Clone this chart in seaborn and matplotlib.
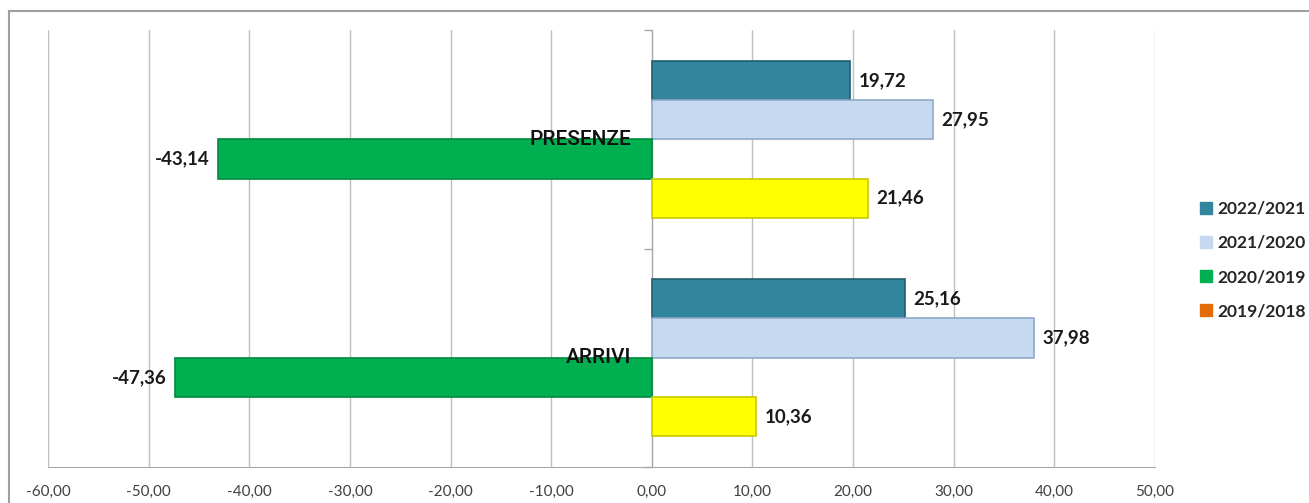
import pandas as pd
import seaborn as sns
import matplotlib.pyplot as plt
from matplotlib.lines import Line2D
from matplotlib.patches import Rectangle
from matplotlib.ticker import FuncFormatter, FixedLocator

# data
categories = ['PRESENZE', 'ARRIVI']
periods = ['2022/2021', '2021/2020', '2020/2019', '2019/2018']
presenze = [19.72, 27.95, -43.14, 21.46]
arrivi = [25.16, 37.98, -47.36, 10.36]

bar_colors = ['#31859C', '#C6D9F1', '#00B050', '#FFFF00']
legend_colors = ['#31859C', '#C6D9F1', '#00B050', '#E36C09']
edge_colors = ['#215E6E', '#8EA9C8', '#008A3E', '#C8C800']

df = pd.DataFrame({
    'categoria': ['PRESENZE'] * 4 + ['ARRIVI'] * 4,
    'periodo': periods * 2,
    'valore': presenze + arrivi,
})

sns.set_style('white')
plt.rcParams['font.family'] = ['Lato', 'DejaVu Sans']

fig = plt.figure(figsize=(13.09, 5.03), dpi=100)
ax = fig.add_axes([48 / 1309, 1 - 467 / 503, (1155 - 48) / 1309, (467 - 30) / 503])

sns.barplot(data=df, x='valore', y='categoria', hue='periodo', order=categories,
            hue_order=periods, palette=bar_colors, saturation=1, orient='h', width=0.72,
            legend=False, ax=ax, zorder=3)

for i, cont in enumerate(ax.containers):
    for bar in cont:
        bar.set_edgecolor(edge_colors[i])
        bar.set_linewidth(1.2)
    ax.bar_label(cont, labels=[f'{v:.2f}'.replace('.', ',') for v in cont.datavalues],
                 padding=6, fontsize=13.5, fontweight='bold', color='#1a1a1a')

ax.set_xlim(-60, 50)
ax.set_ylim(1.5, -0.5)
ax.set_xticks(range(-60, 51, 10))
ax.xaxis.set_major_formatter(FuncFormatter(lambda v, p: f'{v:.2f}'.replace('.', ',')))
ax.tick_params(axis='x', labelsize=11, colors='#404040', length=5, width=1,
               color='#A6A6A6', pad=8)
ax.grid(axis='x', color='#BFBFBF', linewidth=1)
ax.grid(axis='y', visible=False)

# category axis crossing at zero
ax.spines['left'].set_position(('data', 0))
ax.spines['left'].set_color('#A6A6A6')
ax.spines['bottom'].set_color('#A6A6A6')
ax.spines['top'].set_visible(False)
ax.spines['right'].set_visible(False)
ax.yaxis.set_minor_locator(FixedLocator([-0.5, 0.5, 1.5]))
ax.tick_params(axis='y', which='major', length=0, labelleft=False)
ax.tick_params(axis='y', which='minor', length=6, width=1, color='#A6A6A6', left=True)
ax.set_xlabel('')
ax.set_ylabel('')

# category names drawn over the bars, next to the zero axis
for i, cat in enumerate(categories):
    ax.annotate(cat, (0, i), xytext=(-15, 0), textcoords='offset points',
                ha='right', va='center', fontsize=15, fontweight='medium', color='#111111',
                zorder=6, family=['Roboto', 'DejaVu Sans'])

handles = [Line2D([0], [0], marker='s', linestyle='none', markersize=9,
                  markerfacecolor=c, markeredgecolor=c) for c in legend_colors]
fig.legend(handles, periods, loc='center left', bbox_to_anchor=(1190 / 1309, 1 - 260 / 503),
           frameon=False, borderpad=0, handletextpad=0.3, labelspacing=1.05, handlelength=0.8,
           prop={'weight': 'bold', 'size': 12.5})

# outer chart frame
fig.patches.append(Rectangle((9 / 1309, -0.1), 1.2, 1.1 - 11 / 503, transform=fig.transFigure,
                             fill=False, edgecolor='#A0A0A0', linewidth=1.5))

fig.savefig('out.png', dpi=100)
